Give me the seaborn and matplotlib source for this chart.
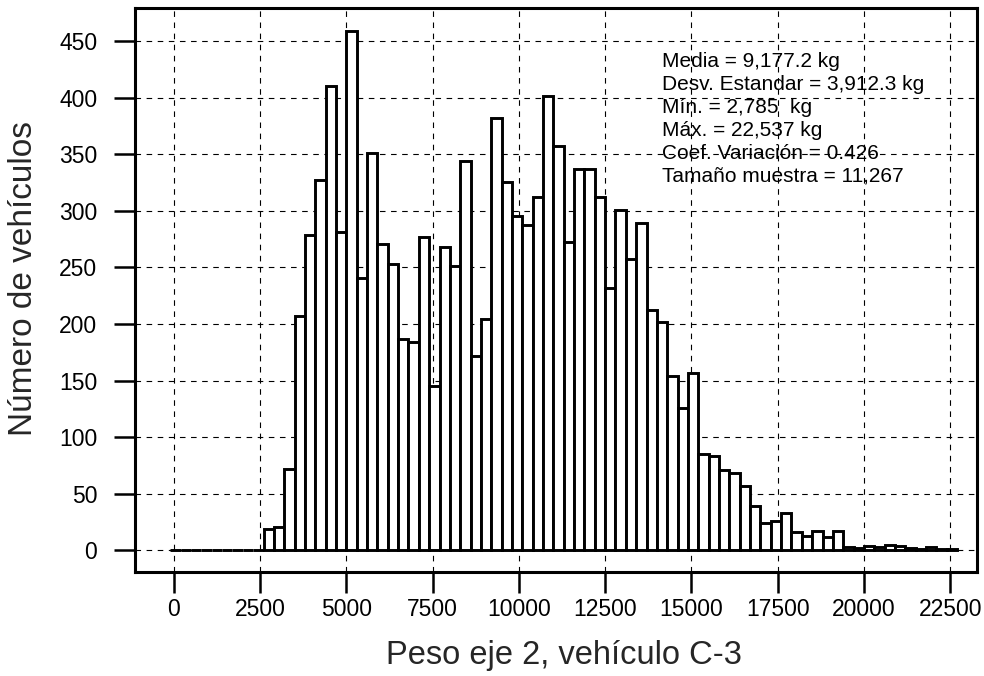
import numpy as np
import pandas as pd
import matplotlib
matplotlib.use("Agg")
import matplotlib.pyplot as plt
import seaborn as sns

# ---- data (300 kg bins, left edges) ----
bin_width = 300
bin_starts = list(range(-100, 22401, bin_width))
counts = [0, 0, 0, 0, 0, 0, 0, 0, 0,
          19, 21, 72, 207, 279, 327, 410, 281, 459, 241,
          351, 271, 253, 187, 184, 277, 145, 268, 251, 344,
          172, 204, 382, 325, 295, 287, 312, 401, 357, 272,
          337, 337, 312, 232, 301, 257, 289, 212, 202, 154,
          126, 157, 85, 83, 71, 68, 57, 39, 24, 26,
          33, 16, 13, 17, 12, 17, 3, 2, 4, 3,
          5, 4, 2, 1, 3, 1, 1]
x_ticks = [0, 2500, 5000, 7500, 10000, 12500, 15000, 17500, 20000, 22500]
y_ticks = [0, 50, 100, 150, 200, 250, 300, 350, 400, 450]
stats_lines = ["Media = 9,177.2 kg",
               "Desv. Estandar = 3,912.3 kg",
               "Mín. = 2,785  kg",
               "Máx. = 22,537 kg",
               "Coef. Variación = 0.426",
               "Tamaño muestra = 11,267"]
x_label = "Peso eje 2, vehículo C-3"
y_label = "Número de vehículos"

df = pd.DataFrame({"start": bin_starts, "count": counts})
df["center"] = df["start"] + bin_width / 2
edges = list(df["start"]) + [df["start"].iloc[-1] + bin_width]

sns.set_style("ticks")
plt.rcParams["font.family"] = ["Liberation Sans", "DejaVu Sans"]

fig = plt.figure(figsize=(9.84, 6.76), dpi=100)
ax = fig.add_axes([0.137, 0.154, 0.856, 0.834])

sns.histplot(data=df, x="center", weights="count", bins=edges, ax=ax,
             color="white", edgecolor="black", linewidth=2.1, alpha=1.0)

ax.set_xlim(-1130, 23280)
ax.set_ylim(-19, 479)
ax.set_xticks(x_ticks)
ax.set_yticks(y_ticks)
ax.set_xticklabels([str(t) for t in x_ticks])
ax.set_yticklabels([str(t) for t in y_ticks])

ax.grid(True, color="black", linestyle=(0, (5, 5)), linewidth=0.8)
ax.set_axisbelow(True)

for s in ax.spines.values():
    s.set_visible(True)
    s.set_linewidth(2.2)
    s.set_color("black")

ax.tick_params(axis="both", direction="out", length=15, width=1.8,
               color="black", labelsize=16.5, labelcolor="black")
ax.tick_params(axis="y", pad=12)
ax.tick_params(axis="x", pad=4)

ax.set_xlabel(x_label, fontsize=23.5, va="center", ha="center")
ax.set_ylabel(y_label, fontsize=24, va="center", ha="center")
ax.xaxis.set_label_coords(0.51, -0.148)
ax.yaxis.set_label_coords(-0.132, 0.52)

y0 = 432
for i, line in enumerate(stats_lines):
    ax.text(14150, y0 - i * 20.3, line, fontsize=15, ha="left", va="center",
            color="black")

fig.savefig("out.png", dpi=100, facecolor="white")
